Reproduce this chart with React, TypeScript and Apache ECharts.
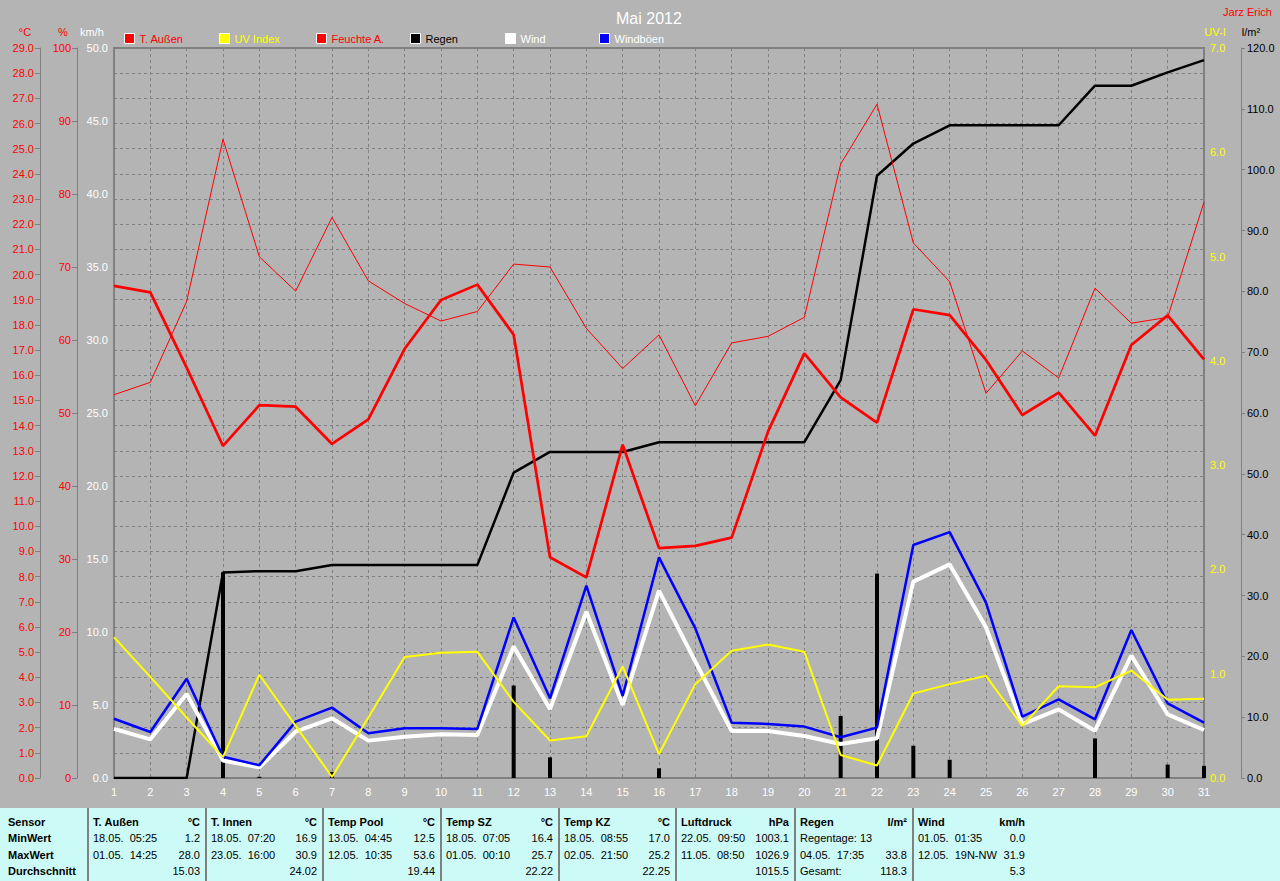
import React, { useEffect, useRef } from "react";
import * as echarts from "echarts";

// ---------- data ----------
const days = ["1","2","3","4","5","6","7","8","9","10","11","12","13","14","15","16","17","18","19","20","21","22","23","24","25","26","27","28","29","30","31"];

// T. Außen (°C, daily mean)
const tempOut = [19.55, 19.29, 16.3, 13.19, 14.81, 14.75, 13.27, 14.25, 17.05, 18.99, 19.6, 17.61, 8.77, 7.97, 13.24, 9.13, 9.22, 9.55, 13.76, 16.87, 15.12, 14.12, 18.62, 18.39, 16.61, 14.42, 15.31, 13.6, 17.2, 18.38, 16.63];
// Feuchte A. (%)
const humidity = [52.5, 54.2, 65.3, 87.5, 71.4, 66.7, 76.8, 68.1, 65.0, 62.6, 63.9, 70.4, 70.0, 61.6, 56.1, 60.7, 51.0, 59.6, 60.5, 63.1, 84.1, 92.3, 73.3, 68.0, 52.7, 58.5, 54.8, 67.1, 62.3, 63.1, 78.9];
// UV Index
const uvIndex = [1.35, 0.97, 0.58, 0.2, 0.99, 0.5, 0.01, 0.58, 1.16, 1.2, 1.21, 0.73, 0.36, 0.4, 1.07, 0.23, 0.9, 1.22, 1.28, 1.21, 0.22, 0.12, 0.81, 0.9, 0.98, 0.5, 0.88, 0.87, 1.03, 0.75, 0.76];
// Regen cumulative (l/m²)
const rainTotal = [0, 0, 0, 33.8, 34.0, 34.0, 35.0, 35.0, 35.0, 35.0, 35.0, 50.2, 53.6, 53.6, 53.6, 55.2, 55.2, 55.2, 55.2, 55.2, 65.4, 99.0, 104.3, 107.3, 107.3, 107.3, 107.3, 113.8, 113.8, 116.0, 118.0];
// Regen per day (l/m²)
const rainDaily = [0, 0, 0, 33.8, 0.2, 0, 1.0, 0, 0, 0, 0, 15.2, 3.4, 0, 0, 1.6, 0, 0, 0, 0, 10.2, 33.6, 5.3, 3.0, 0, 0, 0, 6.5, 0, 2.2, 2.0];
// Wind (km/h)
const wind = [3.36, 2.65, 5.75, 1.19, 0.73, 3.17, 4.09, 2.56, 2.83, 2.99, 2.95, 9.0, 4.73, 11.39, 5.0, 12.83, 7.97, 3.22, 3.22, 2.88, 2.33, 2.72, 13.45, 14.63, 10.32, 3.68, 4.7, 3.24, 8.38, 4.36, 3.29];
// Windböen (km/h)
const gusts = [4.06, 3.15, 6.8, 1.46, 0.87, 3.86, 4.82, 3.06, 3.4, 3.4, 3.36, 11.0, 5.46, 13.17, 5.62, 15.11, 10.25, 3.79, 3.7, 3.52, 2.79, 3.45, 15.96, 16.84, 12.01, 4.2, 5.39, 4.02, 10.14, 5.11, 3.79];

// legend
const legendNames = ["T. Außen", "UV Index", "Feuchte A.", "Regen", "Wind", "Windböen"];
const legendIconColors = ["#ff0000", "#ffff00", "#ff0000", "#000000", "#ffffff", "#0000ff"];
const legendTextColors = ["#ff0000", "#ffff00", "#ff0000", "#000000", "#ffffff", "#ffffff"];

// summary table
const tableRowLabels = ["Sensor", "MinWert", "MaxWert", "Durchschnitt"];
const tableSensors = ["T. Außen", "T. Innen", "Temp Pool", "Temp SZ", "Temp KZ", "Luftdruck", "Regen", "Wind"];
const tableUnits = ["°C", "°C", "°C", "°C", "°C", "hPa", "l/m²", "km/h"];
const tableMinText = ["18.05.  05:25", "18.05.  07:20", "13.05.  04:45", "18.05.  07:05", "18.05.  08:55", "22.05.  09:50", "Regentage: 13", "01.05.  01:35"];
const tableMinVal = ["1.2", "16.9", "12.5", "16.4", "17.0", "1003.1", "", "0.0"];
const tableMaxText = ["01.05.  14:25", "23.05.  16:00", "12.05.  10:35", "01.05.  00:10", "02.05.  21:50", "11.05.  08:50", "04.05.  17:35", "12.05.  19N-NW"];
const tableMaxVal = ["28.0", "30.9", "53.6", "25.7", "25.2", "1026.9", "33.8", "31.9"];
const tableAvgText = ["", "", "", "", "", "", "Gesamt:", ""];
const tableAvgVal = ["15.03", "24.02", "19.44", "22.22", "22.25", "1015.5", "118.3", "5.3"];

// ---------- layout ----------
const FONT = "Liberation Sans, Arial, sans-serif";
const GRID_COLOR = "#808080";
const legendLefts = [124, 219, 316, 410, 505, 599];
const colSeps = [88, 206, 323, 441, 559, 676, 795, 913, 1031];
const rowYs = [822, 838, 855, 871];

function nbsp(s: string) {
  return s.replace(/ /g, "\u00a0");
}

function buildTable() {
  const els: any[] = [];
  els.push({ type: "rect", shape: { x: 0, y: 808, width: 1280, height: 73 }, style: { fill: "#ccfaf6" }, silent: true });
  colSeps.slice(0, 8).forEach((x) => {
    els.push({ type: "rect", shape: { x: x - 1, y: 808, width: 2, height: 73 }, style: { fill: "#808080" }, silent: true });
  });
  tableRowLabels.forEach((t, r) => {
    els.push({ type: "text", x: 8, y: rowYs[r], style: { text: t, fill: "#000", font: "bold 11px " + FONT, align: "left", verticalAlign: "middle" } });
  });
  tableSensors.forEach((name, c) => {
    const lx = colSeps[c] + 5;
    const rx = colSeps[c + 1] - 6;
    const txt = (s: string, x: number, y: number, bold: boolean, align: string) => {
      if (!s) return;
      els.push({ type: "text", x, y, style: { text: nbsp(s), fill: "#000", font: (bold ? "bold " : "") + "11px " + FONT, align, verticalAlign: "middle" } });
    };
    txt(name, lx, rowYs[0], true, "left");
    txt(tableUnits[c], rx, rowYs[0], true, "right");
    txt(tableMinText[c], lx, rowYs[1], false, "left");
    txt(tableMinVal[c], rx, rowYs[1], false, "right");
    txt(tableMaxText[c], lx, rowYs[2], false, "left");
    txt(tableMaxVal[c], rx, rowYs[2], false, "right");
    txt(tableAvgText[c], lx, rowYs[3], false, "left");
    txt(tableAvgVal[c], rx, rowYs[3], false, "right");
  });
  return els;
}

function axisNameText(text: string, x: number, color: string) {
  return { type: "text", x, y: 32, style: { text, fill: color, font: "11px " + FONT, align: "center", verticalAlign: "middle" } };
}

export default function App() {
  const ref = useRef<HTMLDivElement>(null);

  useEffect(() => {
    if (!ref.current) return;
    const chart = echarts.init(ref.current, undefined, { renderer: "svg" });

    const dashed = { color: GRID_COLOR, type: [3, 3] as any, width: 1 };

    const option: any = {
      animation: false,
      backgroundColor: "#b4b4b4",
      textStyle: { fontFamily: FONT },
      title: {
        text: "Mai 2012",
        left: 611,
        top: 5,
        textStyle: { color: "#ffffff", fontSize: 16, fontWeight: "normal", fontFamily: FONT },
      },
      legend: legendNames.map((name, i) => ({
        left: legendLefts[i],
        top: 33,
        padding: 0,
        itemWidth: 10,
        itemHeight: 10,
        itemGap: 0,
        icon: "rect",
        selectedMode: false,
        textStyle: { fontSize: 11, color: legendTextColors[i], fontFamily: FONT },
        data: [
          {
            name,
            icon: "rect",
            itemStyle: { color: legendIconColors[i], borderColor: "#ffffff", borderWidth: 1 },
            lineStyle: { width: 0 },
            textStyle: { color: legendTextColors[i] },
          },
        ],
      })),
      grid: {
        left: 114,
        right: 76,
        top: 48,
        bottom: 103,
        show: true,
        borderColor: GRID_COLOR,
        borderWidth: 2,
        backgroundColor: "transparent",
      },
      xAxis: {
        type: "category",
        data: days,
        boundaryGap: false,
        axisLine: { show: true, lineStyle: { color: GRID_COLOR, width: 2 } },
        axisTick: { show: false },
        axisLabel: { color: "#ffffff", fontSize: 11, margin: 8, interval: 0 },
        splitLine: { show: true, interval: 0, lineStyle: dashed },
      },
      yAxis: [
        {
          type: "value", position: "left", offset: 74, min: 0, max: 29, interval: 1,
          axisLine: { show: true, lineStyle: { color: GRID_COLOR, width: 1 } },
          axisTick: { show: true, length: 5, lineStyle: { color: GRID_COLOR } },
          axisLabel: { color: "#ff0000", fontSize: 11, margin: 6, formatter: (v: number) => v.toFixed(1) },
          splitLine: { show: true, lineStyle: dashed },
        },
        {
          type: "value", position: "left", offset: 37, min: 0, max: 100, interval: 10,
          axisLine: { show: true, lineStyle: { color: GRID_COLOR, width: 1 } },
          axisTick: { show: true, length: 5, lineStyle: { color: GRID_COLOR } },
          axisLabel: { color: "#ff0000", fontSize: 11, margin: 6, formatter: (v: number) => String(Math.round(v)) },
          splitLine: { show: false },
        },
        {
          type: "value", position: "left", offset: 0, min: 0, max: 50, interval: 5,
          axisLine: { show: true, lineStyle: { color: GRID_COLOR, width: 2 } },
          axisTick: { show: false },
          axisLabel: { color: "#ffffff", fontSize: 11, margin: 6, formatter: (v: number) => v.toFixed(1) },
          splitLine: { show: false },
        },
        {
          type: "value", position: "right", offset: 0, min: 0, max: 7, interval: 1,
          axisLine: { show: true, lineStyle: { color: GRID_COLOR, width: 2 } },
          axisTick: { show: false },
          axisLabel: { color: "#ffff00", fontSize: 11, margin: 6, formatter: (v: number) => v.toFixed(1) },
          splitLine: { show: false },
        },
        {
          type: "value", position: "right", offset: 37, min: 0, max: 120, interval: 10,
          axisLine: { show: true, lineStyle: { color: GRID_COLOR, width: 1 } },
          axisTick: { show: true, length: 4, lineStyle: { color: GRID_COLOR } },
          axisLabel: { color: "#000000", fontSize: 11, margin: 6, formatter: (v: number) => v.toFixed(1) },
          splitLine: { show: false },
        },
      ],
      series: [
        {
          name: "Regen", type: "bar", yAxisIndex: 4, data: rainDaily, barWidth: 4,
          itemStyle: { color: "#000000" }, silent: true,
        },
        {
          name: "Regen", type: "line", yAxisIndex: 4, data: rainTotal, symbol: "none",
          lineStyle: { color: "#000000", width: 2.5 }, itemStyle: { color: "#000000" },
        },
        {
          name: "Feuchte A.", type: "line", yAxisIndex: 1, data: humidity, symbol: "none",
          lineStyle: { color: "#ff0000", width: 1 }, itemStyle: { color: "#ff0000" },
        },
        {
          name: "T. Außen", type: "line", yAxisIndex: 0, data: tempOut, symbol: "none",
          lineStyle: { color: "#ff0000", width: 2.7 }, itemStyle: { color: "#ff0000" },
        },
        {
          name: "Wind", type: "line", yAxisIndex: 2, data: wind, symbol: "none",
          lineStyle: { color: "#ffffff", width: 4 }, itemStyle: { color: "#ffffff" },
        },
        {
          name: "Windböen", type: "line", yAxisIndex: 2, data: gusts, symbol: "none",
          lineStyle: { color: "#0000ff", width: 2.5 }, itemStyle: { color: "#0000ff" },
        },
        {
          name: "UV Index", type: "line", yAxisIndex: 3, data: uvIndex, symbol: "none",
          lineStyle: { color: "#ffff00", width: 2 }, itemStyle: { color: "#ffff00" },
        },
      ],
      graphic: [
        axisNameText("°C", 25, "#ff0000"),
        axisNameText("%", 63, "#ff0000"),
        axisNameText("km/h", 92, "#ffffff"),
        axisNameText("UV-I", 1215, "#ffff00"),
        axisNameText("l/m²", 1251, "#000000"),
        { type: "text", x: 1272, y: 12, style: { text: "Jarz Erich", fill: "#ff0000", font: "11px " + FONT, align: "right", verticalAlign: "middle" } },
        ...buildTable(),
      ],
    };

    chart.setOption(option);
    return () => {
      chart.dispose();
    };
  }, []);

  return (
    <div
      ref={ref}
      style={{ position: "fixed", left: 0, top: 0, width: 1280, height: 881 }}
    />
  );
}
